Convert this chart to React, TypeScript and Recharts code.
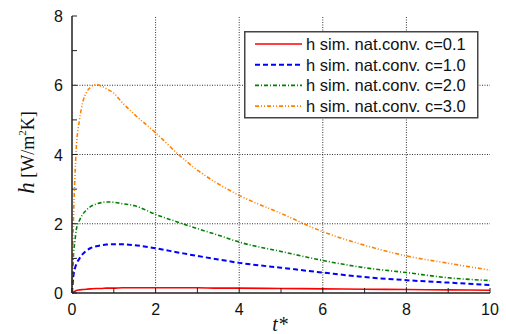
import {
  Legend,
  Line,
  LineChart,
  ReferenceLine,
  XAxis,
  YAxis,
} from "recharts";

// dimensionless time t*
const tStar = [0, 0.03, 0.07, 0.1, 0.18, 0.26, 0.34, 0.45, 0.58, 0.7, 0.82, 1, 1.2, 1.5, 2, 2.5, 3, 3.5, 4, 5, 6, 7, 8, 9, 10];

// h [W/m2K] for each c
const hC01 = [0, 0.03, 0.05, 0.07, 0.09, 0.1, 0.11, 0.12, 0.13, 0.13, 0.14, 0.14, 0.15, 0.15, 0.15, 0.15, 0.15, 0.14, 0.14, 0.13, 0.12, 0.11, 0.1, 0.09, 0.08];
const hC10 = [0, 0.45, 0.71, 0.82, 1.0, 1.13, 1.22, 1.3, 1.35, 1.38, 1.4, 1.41, 1.41, 1.38, 1.29, 1.18, 1.07, 0.97, 0.87, 0.73, 0.59, 0.46, 0.37, 0.3, 0.23];
const hC20 = [0, 1.0, 1.5, 1.81, 2.1, 2.28, 2.39, 2.5, 2.57, 2.61, 2.63, 2.62, 2.58, 2.52, 2.27, 2.06, 1.86, 1.67, 1.47, 1.2, 0.94, 0.73, 0.59, 0.44, 0.36];
const hC30 = [0, 1.9, 3.35, 4.13, 5.0, 5.52, 5.78, 5.95, 6.02, 5.98, 5.9, 5.77, 5.5, 5.15, 4.63, 4.05, 3.55, 3.15, 2.82, 2.3, 1.77, 1.38, 1.07, 0.86, 0.66];

const xTicks = [0, 1, 2, 3, 4, 5, 6, 7, 8, 9, 10];
const yTicks = [0, 1, 2, 3, 4, 5, 6, 7, 8];
const xGrid = [2, 4, 6, 8];
const yGrid = [2, 4, 6];

const series = [
  { key: "c01", name: "h sim. nat.conv. c=0.1", values: hC01, color: "#ff0000", dash: undefined, width: 1.6 },
  { key: "c10", name: "h sim. nat.conv. c=1.0", values: hC10, color: "#0000ff", dash: "5 3", width: 2 },
  { key: "c20", name: "h sim. nat.conv. c=2.0", values: hC20, color: "#008000", dash: "4 2 1 2", width: 1.6 },
  { key: "c30", name: "h sim. nat.conv. c=3.0", values: hC30, color: "#ff8000", dash: "4 2 1 2 1 2", width: 1.6 },
];

const data = tStar.map((t, i) => {
  const row: Record<string, number> = { t };
  series.forEach((s) => {
    row[s.key] = s.values[i];
  });
  return row;
});

const AXIS = "#222";
const SANS = "'Liberation Sans', Arial, sans-serif";
const SERIF = "'Liberation Serif', 'Times New Roman', serif";
const TICK_LEN = 5;

const BottomTick = (props: any) => {
  const { x, y, payload } = props;
  const major = payload.value % 2 === 0;
  return (
    <g>
      <line x1={x} x2={x} y1={y} y2={y - TICK_LEN} stroke={AXIS} />
      {major && (
        <text x={x} y={y + 22} textAnchor="middle" fontFamily={SANS} fontSize={16} fill="#111">
          {payload.value}
        </text>
      )}
    </g>
  );
};

const TopTick = (props: any) => {
  const { x, y } = props;
  return <line x1={x} x2={x} y1={y} y2={y + TICK_LEN} stroke={AXIS} />;
};

const LeftTick = (props: any) => {
  const { x, y, payload } = props;
  const major = payload.value % 2 === 0;
  return (
    <g>
      <line x1={x} x2={x + TICK_LEN} y1={y} y2={y} stroke={AXIS} />
      {major && (
        <text x={x - 9} y={y + 6} textAnchor="end" fontFamily={SANS} fontSize={16} fill="#111">
          {payload.value}
        </text>
      )}
    </g>
  );
};

const RightTick = (props: any) => {
  const { x, y } = props;
  return <line x1={x} x2={x - TICK_LEN} y1={y} y2={y} stroke={AXIS} />;
};

const YLabel = ({ viewBox }: any) => {
  const cx = viewBox.x + 34;
  const cy = viewBox.y + viewBox.height / 2 - 2;
  return (
    <text transform={`translate(${cx},${cy}) rotate(-90)`} textAnchor="middle" fontFamily={SERIF} fontSize={18} fill="#111">
      <tspan fontStyle="italic" fontSize={23}>h</tspan>
      <tspan> [W/m</tspan>
      <tspan fontSize={11} dy={-8}>2</tspan>
      <tspan dy={8}>K]</tspan>
    </text>
  );
};

// the reference crops this label at the bottom edge; keep it just inside
const XLabel = ({ viewBox }: any) => (
  <text x={viewBox.x + viewBox.width / 2 - 1} y={viewBox.y + 38} textAnchor="middle" fontFamily={SERIF} fontStyle="italic" fontSize={20} fill="#111">
    t*
  </text>
);

const LegendBox = () => (
  <svg width={235} height={88}>
    <rect x={0.75} y={0.75} width={233} height={86} fill="#fff" stroke="#444" strokeWidth={1.5} />
    {series.map((s, i) => {
      const cy = 13 + i * 20.7;
      return (
        <g key={s.key}>
          <line x1={11} x2={58} y1={cy} y2={cy} stroke={s.color} strokeWidth={s.width} strokeDasharray={s.dash} />
          <text x={62} y={cy + 6} fontFamily={SANS} fontSize={16.5} fill="#111">
            {s.name}
          </text>
        </g>
      );
    })}
  </svg>
);

export default function App() {
  return (
    <div style={{ position: "absolute", left: 0, top: 0, width: 506, height: 334, background: "#fff" }}>
      <LineChart width={506} height={334} data={data} margin={{ top: 16, right: 16, bottom: 0, left: 0 }}>
        {xGrid.map((v) => (
          <ReferenceLine key={`gx${v}`} x={v} stroke="#333" strokeDasharray="1 1.5" />
        ))}
        {yGrid.map((v) => (
          <ReferenceLine key={`gy${v}`} y={v} stroke="#333" strokeDasharray="1 1.5" />
        ))}
        <XAxis
          dataKey="t"
          type="number"
          domain={[0, 10]}
          ticks={xTicks}
          interval={0}
          tickSize={0}
          tickMargin={0}
          tickLine={false}
          axisLine={{ stroke: AXIS, strokeWidth: 1.5 }}
          tick={<BottomTick />}
          height={41}
          label={<XLabel />}
        />
        <XAxis
          xAxisId="top"
          orientation="top"
          dataKey="t"
          type="number"
          domain={[0, 10]}
          ticks={xTicks}
          interval={0}
          tickSize={0}
          tickMargin={0}
          tickLine={false}
          axisLine={{ stroke: AXIS, strokeWidth: 1.5 }}
          tick={<TopTick />}
          height={0}
        />
        <YAxis
          type="number"
          domain={[0, 8]}
          ticks={yTicks}
          interval={0}
          tickSize={0}
          tickMargin={0}
          tickLine={false}
          axisLine={{ stroke: AXIS, strokeWidth: 1.5 }}
          tick={<LeftTick />}
          width={72}
          label={<YLabel />}
        />
        <YAxis
          yAxisId="right"
          orientation="right"
          type="number"
          domain={[0, 8]}
          ticks={yTicks}
          interval={0}
          tickSize={0}
          tickMargin={0}
          tickLine={false}
          axisLine={{ stroke: AXIS, strokeWidth: 1.5 }}
          tick={<RightTick />}
          width={0}
        />
        {series.map((s) => (
          <Line
            key={s.key}
            dataKey={s.key}
            name={s.name}
            type="monotone"
            stroke={s.color}
            strokeWidth={s.width}
            strokeDasharray={s.dash}
            dot={false}
            activeDot={false}
            isAnimationActive={false}
          />
        ))}
        <Legend
          layout="horizontal"
          verticalAlign="middle"
          align="center"
          wrapperStyle={{ left: 244, top: 31, width: 235, height: 88 }}
          content={<LegendBox />}
        />
      </LineChart>
    </div>
  );
}
